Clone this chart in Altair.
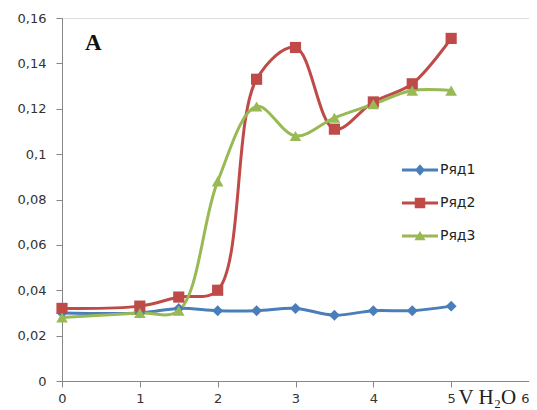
import altair as alt
import pandas as pd

x_vals = [0, 1, 1.5, 2, 2.5, 3, 3.5, 4, 4.5, 5]
ryad1 = [0.030, 0.030, 0.032, 0.031, 0.031, 0.032, 0.029, 0.031, 0.031, 0.033]
ryad2 = [0.032, 0.033, 0.037, 0.040, 0.133, 0.147, 0.111, 0.123, 0.131, 0.151]
ryad3 = [0.028, 0.030, 0.031, 0.088, 0.121, 0.108, 0.116, 0.122, 0.128, 0.128]
series_names = ["Ряд1", "Ряд2", "Ряд3"]
colors = ["#4a7ebb", "#be4b48", "#98b954"]
marker_shapes = ["diamond", "square", "triangle-up"]
marker_sizes = [120, 125, 135]
x_ticks = [0, 1, 2, 3, 4, 5, 6]
y_ticks = [0, 0.02, 0.04, 0.06, 0.08, 0.1, 0.12, 0.14, 0.16]

rows = []
for name, vals in zip(series_names, [ryad1, ryad2, ryad3]):
    for xv, yv in zip(x_vals, vals):
        rows.append({"x": xv, "y": yv, "series": name})
df = pd.DataFrame(rows)

legend_paths = [
    "M-1,-0.085H1V0.085H-1Z M0,-0.32L0.28,0L0,0.32L-0.28,0Z",
    "M-1,-0.085H1V0.085H-1Z M-0.29,-0.29H0.29V0.29H-0.29Z",
    "M-1,-0.085H1V0.085H-1Z M0,-0.28L0.31,0.24L-0.31,0.24Z",
]

xs = alt.Scale(domain=[0, 6], nice=False, zero=False)
ys = alt.Scale(domain=[0, 0.16], nice=False)

axis_common = dict(
    domainColor="#868686", tickColor="#868686", grid=False,
    labelFont="DejaVu Sans", labelFontSize=13, labelColor="#333333",
    tickSize=6, domainWidth=1, tickWidth=1,
)

xenc = alt.X("x:Q", scale=xs, axis=alt.Axis(
    values=x_ticks, format="d", labelPadding=5, title="V H\u2082O",
    titleFont="Liberation Serif", titleFontSize=21, titleFontWeight="normal",
    titleColor="#222222", titleX=396, titleY=22, titleAlign="left",
    titleBaseline="alphabetic", labelFlush=False,
    labelAlign={"condition": {"test": "datum.value == 6", "value": "right"},
                "value": "center"},
    **axis_common))
yenc = alt.Y("y:Q", scale=ys, axis=alt.Axis(
    values=y_ticks, labelExpr="replace(format(datum.value, '.2~f'), '.', ',')",
    labelPadding=10, title=None, **axis_common))

leg = alt.Legend(
    title=None, orient="none", legendX=340, legendY=134,
    symbolSize=1296, symbolOpacity=1, symbolStrokeWidth=0,
    labelFont="DejaVu Sans", labelFontSize=14, labelColor="#222222",
    labelOffset=2, rowPadding=8, padding=0,
)

lines = alt.Chart(df).mark_line(interpolate="catmull-rom", strokeWidth=3).encode(
    x=xenc, y=yenc,
    color=alt.Color("series:N", scale=alt.Scale(domain=series_names, range=colors),
                    legend=None),
    detail="series:N",
)

point_layers = []
for name, col, shp, sz in zip(series_names, colors, marker_shapes, marker_sizes):
    point_layers.append(
        alt.Chart(df).transform_filter(alt.datum.series == name)
        .mark_point(filled=True, opacity=1, shape=shp, size=sz, color=col)
        .encode(x="x:Q", y="y:Q")
    )

legend_layer = alt.Chart(df).mark_point(filled=True, size=0).encode(
    x="x:Q", y="y:Q",
    fill=alt.Fill("series:N", scale=alt.Scale(domain=series_names, range=colors),
                  legend=leg),
    shape=alt.Shape("series:N", scale=alt.Scale(domain=series_names,
                    range=legend_paths), legend=leg),
)

label_a = alt.Chart(pd.DataFrame({"t": ["A"]})).mark_text(
    font="Liberation Serif", fontSize=23, fontWeight="bold", color="#111111",
    align="left", baseline="middle").encode(
    text="t:N", x=alt.value(23), y=alt.value(25))

chart = alt.layer(lines, *point_layers, legend_layer, label_a).properties(
    width=467, height=363,
    autosize=alt.AutoSizeParams(type="none"),
    padding={"left": 54, "top": 10, "right": 0, "bottom": 27},
).resolve_scale(color="independent", fill="independent", shape="independent"
).configure_view(stroke=None).configure(background="white")

chart.save("out.html", embed_options={"renderer": "svg", "actions": False})
